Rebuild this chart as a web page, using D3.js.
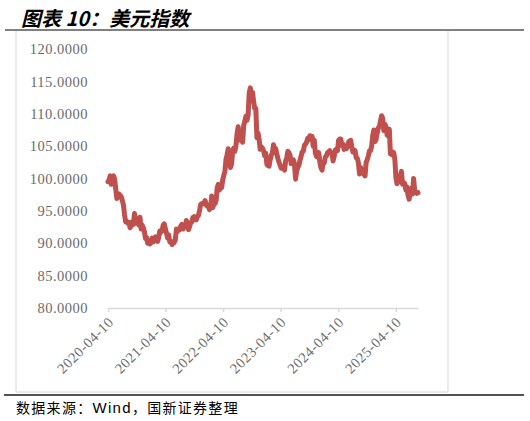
<!DOCTYPE html>
<html>
<head>
<meta charset="utf-8">
<script src="https://cdn.jsdelivr.net/npm/d3@7"></script>
<style>
  html, body { margin: 0; padding: 0; background: #fff; }
  svg { display: block; }
</style>
</head>
<body>
<svg id="chart" width="530" height="421"></svg>
<script>
// ---- Data (weekly closes of the US Dollar Index) ----
const startDate = "2020-04-10";
const endDate = "2025-08-29";
const values2020 = [99.5, 99.8, 100.4,
  99.1, 99.7, 100.4, 99.9, 98.4,
  96.9, 97.3, 97.6, 97.4,
  97.2, 96.6, 95.9, 94.4, 93.3,
  93.4, 93.1, 93.2, 92.4,
  92.7, 93.3, 92.9, 94.6,
  93.8, 93.1, 93.7, 92.8, 94.0,
  92.2, 92.8, 92.4, 91.8,
  90.7, 90.9, 90.0, 90.3];
const values2021 = [89.9, 90.1, 90.8, 90.2, 90.6,
  91.0, 90.5, 90.3, 90.9,
  91.9, 91.7, 91.9, 92.8,
  93.0, 92.2, 91.6, 90.8, 91.3,
  90.2, 90.3, 89.8, 90.0,
  90.1, 90.5, 92.2, 91.8,
  92.2, 92.1, 92.7, 92.9, 92.2,
  92.8, 92.5, 93.5, 92.7,
  92.1, 92.6, 93.2, 93.3,
  94.0, 94.1, 93.9, 93.6, 94.1,
  94.3, 95.1, 96.0, 96.1,
  96.2, 96.1, 96.6, 96.0, 95.7];
const values2022 = [95.7, 95.2, 95.6, 97.3,
  95.5, 96.1, 96.1, 96.6,
  98.6, 99.1, 98.2, 98.8,
  98.6, 99.8, 100.5, 101.1, 103.0,
  103.7, 104.6, 103.0, 101.7,
  102.2, 104.2, 104.7, 104.2,
  105.1, 106.9, 108.0, 106.7, 105.9,
  106.6, 105.6, 108.2, 108.8,
  109.6, 109.0, 109.8, 113.2, 114.0,
  112.8, 113.3, 111.9, 110.8,
  110.8, 106.3, 107.0, 106.0,
  104.5, 104.9, 104.7, 104.3, 103.5];
const values2023 = [103.9, 102.2, 102.0, 101.9,
  102.9, 103.6, 103.9, 105.2,
  104.5, 104.6, 103.8, 103.1, 102.5,
  102.1, 101.6, 101.8, 101.7,
  101.3, 102.7, 103.2, 104.2,
  104.0, 103.6, 102.3, 102.9, 102.9,
  102.3, 99.9, 101.1, 101.7,
  102.0, 102.8, 103.4, 104.1,
  104.2, 105.1, 105.3, 105.6, 106.2,
  106.0, 106.6, 106.2, 106.5,
  105.0, 105.9, 103.9, 103.4,
  103.3, 104.0, 102.6, 101.7, 101.3];
const values2024 = [102.4, 102.4, 103.3, 103.5,
  104.0, 104.1, 104.3, 103.9,
  103.9, 102.7, 103.4, 104.4, 104.5,
  104.3, 105.9, 106.1, 106.1,
  105.1, 105.3, 104.5, 104.7, 104.6,
  104.9, 105.6, 105.8, 105.9,
  104.9, 104.1, 104.4, 104.3,
  103.2, 103.1, 102.4, 100.7, 101.7,
  101.1, 101.1, 100.7, 100.4,
  102.5, 102.9, 103.5, 104.3,
  104.3, 105.0, 106.7, 107.5, 105.7,
  106.0, 107.0, 107.8, 108.0];
const values2025 = [108.9, 109.7, 109.3, 107.4, 108.4,
  108.0, 106.7, 106.6, 107.6,
  103.8, 103.7, 104.1, 104.0,
  103.0, 100.1, 99.2, 99.5,
  100.0, 100.4, 101.1, 99.1, 99.4,
  99.2, 98.2, 98.7, 97.4,
  96.8, 97.9, 98.5, 97.6,
  100.0, 98.2, 97.9, 97.7, 97.8];
const yTicks = [80, 85, 90, 95, 100, 105, 110, 115, 120];
const xTickLabels = ["2020-04-10", "2021-04-10", "2022-04-10", "2023-04-10", "2024-04-10", "2025-04-10"];
const titleText = "图表 10：美元指数";
const sourceParts = ["数据来源：", "Wind", "，国新证券整理"];

// ---- Build ----
const parse = d3.utcParse("%Y-%m-%d");
const allValues = [].concat(values2020, values2021, values2022, values2023, values2024, values2025);
const start = parse(startDate);
const data = allValues.map((v, i) => ({ date: d3.utcWeek.offset(start, i), value: v }));

const svg = d3.select("#chart");

const x = d3.scaleUtc().domain([parse(startDate), parse(endDate)]).range([108, 418]);
const y = d3.scaleLinear().domain([80, 120]).range([308, 49]);

// frame
svg.append("line").attr("x1", 16).attr("x2", 16).attr("y1", 31).attr("y2", 392)
  .attr("stroke", "#e3e3e3").attr("stroke-width", 1.5);
svg.append("line").attr("x1", 448).attr("x2", 448).attr("y1", 31).attr("y2", 392)
  .attr("stroke", "#e3e3e3").attr("stroke-width", 1.5);
svg.append("line").attr("x1", 16).attr("x2", 448).attr("y1", 392).attr("y2", 392)
  .attr("stroke", "#e3e3e3").attr("stroke-width", 1.5);
svg.append("line").attr("x1", 5).attr("x2", 524).attr("y1", 30).attr("y2", 30)
  .attr("stroke", "#808080").attr("stroke-width", 2);
svg.append("line").attr("x1", 4).attr("x2", 524).attr("y1", 395).attr("y2", 395)
  .attr("stroke", "#1a1a1a").attr("stroke-width", 1.5);

// title
svg.append("text").attr("x", 21).attr("y", 26)
  .attr("font-family", "'Noto Sans CJK SC', sans-serif")
  .attr("font-size", 20).attr("font-weight", "bold").attr("font-style", "italic")
  .attr("fill", "#000").text(titleText);

// y axis labels
const yAxis = d3.axisLeft(y).tickValues(yTicks).tickSize(0).tickPadding(0)
  .tickFormat(d => d3.format(".4f")(d));
const gy = svg.append("g").attr("transform", "translate(88,0)").call(yAxis);
gy.select(".domain").remove();
gy.selectAll("text")
  .attr("font-family", "'Liberation Serif', serif")
  .attr("font-size", 14.5)
  .attr("letter-spacing", 0.5)
  .attr("fill", "#6b6b6b");

// x axis
const xTicks = xTickLabels.map(parse);
const xAxis = d3.axisBottom(x).tickValues(xTicks).tickSize(4).tickSizeOuter(0)
  .tickFormat(d3.utcFormat("%Y-%m-%d"));
const gx = svg.append("g").attr("transform", "translate(0,308)").call(xAxis);
gx.select(".domain").attr("stroke", "#d9d9d9").attr("stroke-width", 1.5);
gx.selectAll(".tick line").attr("stroke", "#d9d9d9").attr("stroke-width", 1.5);
gx.selectAll(".tick text")
  .attr("font-family", "'Liberation Serif', serif")
  .attr("font-size", 14.5)
  .attr("letter-spacing", 0.5)
  .attr("fill", "#6b6b6b")
  .attr("text-anchor", "end")
  .attr("dy", null)
  .attr("y", null)
  .attr("transform", "translate(6,15) rotate(-45)");

// line
const line = d3.line().x(d => x(d.date)).y(d => y(d.value)).curve(d3.curveLinear);
svg.append("path").datum(data)
  .attr("d", line)
  .attr("fill", "none")
  .attr("stroke", "#C0504D")
  .attr("stroke-width", 5)
  .attr("stroke-linejoin", "round")
  .attr("stroke-linecap", "round");

// source
const src = svg.append("text").attr("x", 16).attr("y", 413)
  .attr("font-family", "'Noto Sans CJK SC', sans-serif")
  .attr("font-size", 14).attr("letter-spacing", 1.3).attr("fill", "#000");
src.append("tspan").text(sourceParts[0]);
src.append("tspan").attr("font-family", "'Liberation Sans', Arial, sans-serif").attr("font-size", 15).text(sourceParts[1]);
src.append("tspan").text(sourceParts[2]);
</script>
</body>
</html>
